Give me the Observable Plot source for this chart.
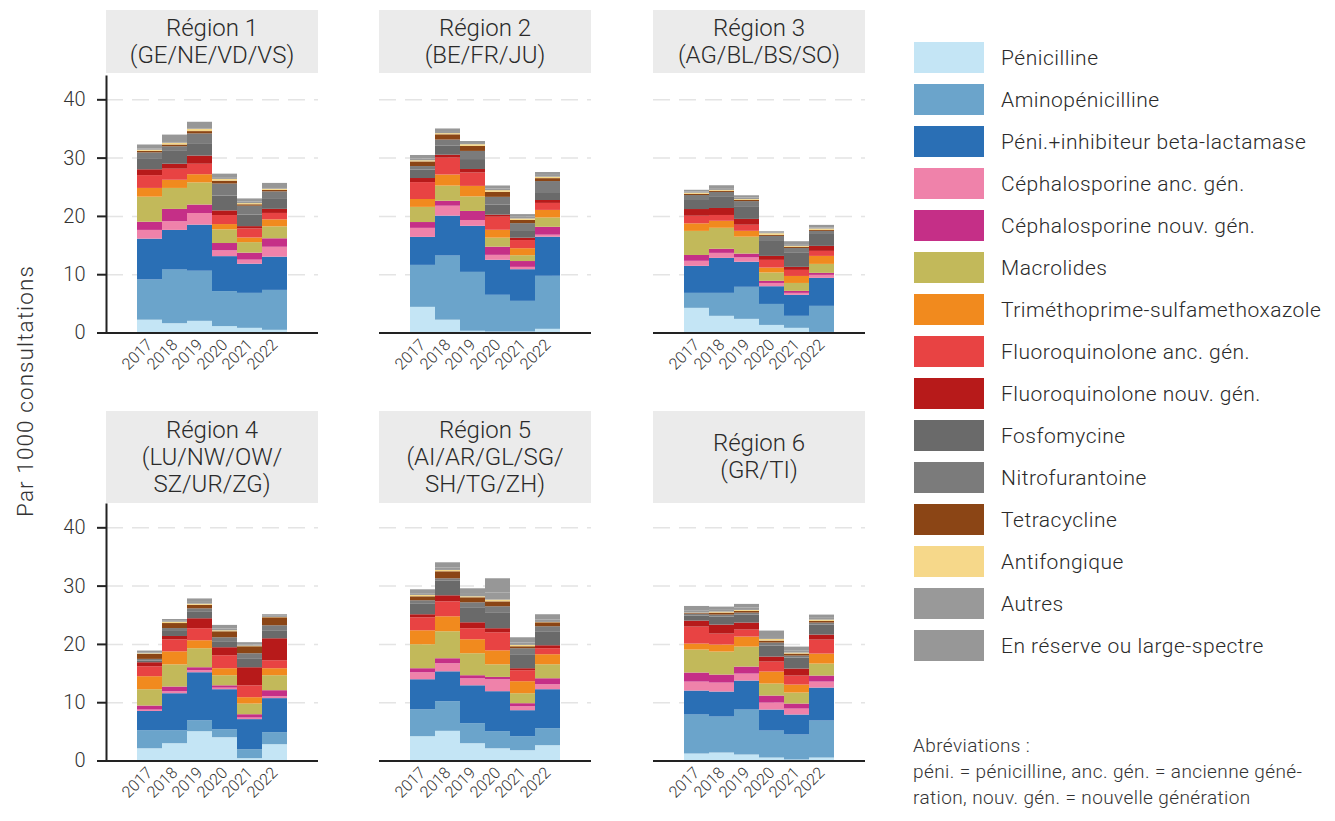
<!DOCTYPE html>
<html><head><meta charset="utf-8">
<script src="https://cdn.jsdelivr.net/npm/d3@7"></script>
<script src="https://cdn.jsdelivr.net/npm/@observablehq/plot@0.6"></script>
<style>
body{margin:0;background:#fff;font-family:Roboto,"Noto Sans",sans-serif;color:#333}
#root{position:relative;width:1335px;height:821px;overflow:hidden;background:#fff}
.hdr{position:absolute;background:#ebebeb;display:flex;flex-direction:column;justify-content:center;align-items:center;font-size:24px;font-weight:300;line-height:27px;color:#2a2a2a;text-align:center}
.panel{position:absolute}
.ylab{position:absolute;left:25px;top:391px;transform:translate(-50%,-50%) rotate(-90deg);white-space:nowrap;font-size:22.5px;letter-spacing:1.1px;font-weight:300;color:#333}
.leg{position:absolute;left:914px;height:31px;display:flex;align-items:center}
.leg .sw{width:70px;height:31px;flex:none}
.leg .tx{margin-left:17px;font-size:21px;letter-spacing:0.5px;font-weight:300;color:#2a2a2a;white-space:nowrap}
.abbr{position:absolute;left:913px;top:733px;font-size:19px;letter-spacing:0.4px;font-weight:300;line-height:26px;color:#333;white-space:nowrap}
</style>
</head><body>
<div id="root"></div>
<script>
const years = ["2017","2018","2019","2020","2021","2022"];
const categories = ["Pénicilline","Aminopénicilline","Péni.+inhibiteur beta-lactamase","Céphalosporine anc. gén.","Céphalosporine nouv. gén.","Macrolides","Triméthoprime-sulfamethoxazole","Fluoroquinolone anc. gén.","Fluoroquinolone nouv. gén.","Fosfomycine","Nitrofurantoine","Tetracycline","Antifongique","Autres","En réserve ou large-spectre"];
const colors = ["#c4e5f5","#6ba4cb","#2a6fb5","#ef82aa","#c52f87","#c2b95a","#f18a1e","#e84343","#b71a1a","#6a6a6a","#7b7b7b","#8b4515","#f6d88a","#999999","#979797"];

// values per year (rows 2017..2022), per category (columns in categories order)
const region1 = [
  [2.2, 6.9, 7.0, 1.5, 1.4, 4.3, 1.5, 2.2, 1.0, 1.9, 1.0, 0.25, 0.2, 0.2, 0.7],
  [1.6, 9.2, 6.8, 1.5, 2.1, 3.6, 1.4, 1.9, 0.85, 2.2, 0.8, 0.3, 0.3, 0.3, 1.1],
  [2.0, 8.6, 7.9, 2.0, 1.45, 3.8, 1.4, 1.8, 1.4, 2.0, 1.8, 0.4, 0.4, 0.3, 0.9],
  [1.1, 6.0, 6.0, 1.0, 1.25, 2.35, 0.9, 1.55, 0.8, 2.55, 2.05, 0.5, 0.3, 0.3, 0.6],
  [0.8, 6.0, 5.0, 0.7, 1.2, 1.8, 0.8, 1.55, 0.4, 2.0, 1.5, 0.25, 0.2, 0.3, 0.5],
  [0.46, 6.85, 5.7, 1.7, 1.45, 2.05, 1.2, 1.1, 0.7, 1.7, 1.3, 0.25, 0.2, 0.3, 0.7]
];
const region2 = [
  [4.4, 7.2, 4.8, 1.55, 1.0, 2.6, 1.35, 2.9, 0.7, 1.45, 0.6, 0.8, 0.2, 0.3, 0.6],
  [2.2, 11.0, 6.85, 1.7, 0.85, 2.6, 1.9, 2.9, 0.5, 1.6, 1.0, 0.9, 0.2, 0.2, 0.6],
  [0.3, 10.1, 7.9, 1.0, 1.55, 2.5, 1.8, 2.3, 0.6, 1.7, 1.4, 0.85, 0.3, 0.2, 0.35],
  [0.17, 6.3, 6.0, 0.85, 1.4, 1.55, 1.35, 2.25, 0.35, 1.7, 1.35, 0.85, 0.3, 0.3, 0.5],
  [0.17, 5.26, 5.43, 0.4, 1.0, 1.0, 1.2, 1.4, 0.4, 1.3, 1.2, 0.55, 0.25, 0.3, 0.45],
  [0.63, 9.1, 6.7, 0.35, 1.35, 1.6, 1.3, 1.2, 0.5, 1.2, 2.05, 0.5, 0.25, 0.3, 0.5]
];
const region3 = [
  [4.23, 2.57, 4.63, 0.87, 1.0, 4.13, 1.3, 1.3, 1.15, 1.55, 0.85, 0.2, 0.2, 0.2, 0.3],
  [2.86, 3.94, 6.0, 0.86, 0.7, 3.6, 1.2, 1.0, 1.2, 1.9, 0.85, 0.2, 0.15, 0.3, 0.5],
  [2.34, 5.5, 4.3, 0.75, 0.65, 2.9, 1.0, 1.05, 1.0, 2.05, 1.0, 0.2, 0.15, 0.25, 0.4],
  [1.3, 3.6, 3.04, 0.56, 0.36, 1.44, 0.84, 1.32, 0.68, 2.56, 0.87, 0.17, 0.29, 0.14, 0.2],
  [0.8, 2.06, 3.6, 0.34, 0.34, 1.36, 1.2, 1.04, 0.52, 2.4, 0.84, 0.2, 0.16, 0.3, 0.5],
  [0.1, 4.47, 4.8, 0.52, 0.34, 1.54, 1.37, 0.86, 0.86, 2.04, 0.53, 0.17, 0.23, 0.2, 0.43]
];
const region4 = [
  [2.1, 3.1, 3.3, 0.24, 0.69, 2.8, 2.23, 1.71, 0.69, 0.3, 0.27, 0.87, 0.1, 0.16, 0.3],
  [2.97, 2.23, 6.34, 0.35, 0.8, 3.8, 2.24, 2.06, 0.57, 0.86, 0.5, 0.86, 0.23, 0.16, 0.3],
  [5.03, 1.87, 8.24, 0.36, 0.5, 3.26, 1.37, 2.07, 1.7, 1.2, 0.5, 0.6, 0.2, 0.3, 0.6],
  [4.0, 1.37, 6.86, 0.27, 0.4, 1.73, 1.2, 2.23, 1.37, 1.03, 0.68, 1.03, 0.17, 0.3, 0.62],
  [0.4, 1.54, 5.16, 0.27, 0.57, 1.83, 1.09, 2.04, 3.1, 1.54, 0.86, 1.2, 0.1, 0.2, 0.4],
  [2.8, 2.06, 5.84, 0.33, 1.03, 2.57, 1.2, 1.37, 3.77, 1.37, 0.86, 1.37, 0.06, 0.2, 0.27]
];
const region5 = [
  [4.17, 4.63, 5.14, 1.2, 0.69, 4.11, 2.4, 2.23, 0.52, 1.88, 0.52, 0.68, 0.23, 0.3, 0.67],
  [5.09, 5.08, 5.13, 1.39, 0.85, 4.63, 2.57, 2.56, 1.04, 2.56, 0.36, 1.2, 0.23, 0.4, 0.91],
  [2.97, 3.43, 6.5, 1.2, 0.53, 3.77, 2.4, 1.89, 1.02, 2.58, 0.85, 0.86, 0.17, 0.4, 0.97],
  [2.1, 2.93, 6.86, 2.05, 0.4, 2.16, 2.4, 3.1, 0.69, 2.74, 1.03, 0.84, 0.3, 1.2, 2.46],
  [1.77, 2.4, 4.46, 0.68, 0.52, 1.71, 2.06, 1.89, 0.34, 2.4, 1.03, 0.34, 0.23, 0.4, 0.91],
  [2.63, 2.91, 6.69, 0.86, 1.02, 2.4, 1.72, 1.03, 0.51, 2.4, 0.86, 0.68, 0.06, 0.4, 0.92]
];
const region6 = [
  [1.2, 6.69, 4.11, 1.54, 1.55, 3.94, 1.03, 2.91, 1.03, 0.86, 0.34, 0.11, 0.06, 0.4, 0.74],
  [1.37, 6.17, 4.29, 1.54, 1.37, 3.95, 1.2, 1.88, 1.54, 1.38, 0.34, 0.34, 0.17, 0.3, 0.56],
  [1.03, 7.71, 4.97, 1.2, 1.2, 3.43, 1.72, 1.2, 1.2, 1.37, 0.34, 0.29, 0.17, 0.4, 0.63],
  [0.51, 4.63, 3.6, 1.2, 1.2, 2.06, 2.06, 1.71, 0.86, 1.88, 0.52, 0.34, 0.29, 0.5, 0.93],
  [0.17, 4.29, 3.43, 1.02, 0.86, 1.89, 1.37, 1.54, 1.2, 1.89, 0.34, 0.34, 0.17, 0.4, 0.63],
  [0.51, 6.35, 5.65, 1.03, 1.03, 2.06, 1.71, 2.4, 0.86, 1.71, 0.35, 0.28, 0.23, 0.3, 0.56]
];
const regionTitles = [
  ["Région 1", "(GE/NE/VD/VS)"],
  ["Région 2", "(BE/FR/JU)"],
  ["Région 3", "(AG/BL/BS/SO)"],
  ["Région 4", "(LU/NW/OW/", "SZ/UR/ZG)"],
  ["Région 5", "(AI/AR/GL/SG/", "SH/TG/ZH)"],
  ["Région 6", "(GR/TI)"]
];
const regions = [region1, region2, region3, region4, region5, region6];
const yTicks = [0, 10, 20, 30, 40];
const gridTicks = [10, 20, 30, 40];
const yLabel = "Par 1000 consultations";
const abbrLines = ["Abréviations :", "péni. = pénicilline, anc. gén. = ancienne géné-", "ration, nouv. gén. = nouvelle génération"];

const root = document.getElementById("root");
const colLeft = [106, 379, 653];
const rowBase = [332, 760];
const hdrTop = [10, 411];
const hdrBot = [73, 503];
const FW = 212, PH = 256.5;

regions.forEach((data, k) => {
  const col = k % 3, row = Math.floor(k / 3);
  const showY = col === 0;
  const mL = showY ? 95 : 4, mR = 4, mT = 2, mB = 70;
  const rows = years.flatMap((yr, i) => categories.map((c, j) => ({year: yr, cat: c, value: data[i][j]})));
  const svg = Plot.plot({
    width: mL + FW + mR, height: mT + PH + mB,
    marginLeft: mL, marginRight: mR, marginTop: mT, marginBottom: mB,
    style: {fontFamily: "Roboto, sans-serif", fontWeight: 300, background: "transparent", overflow: "visible", color: "#333"},
    x: {type: "band", domain: years, paddingInner: 0, paddingOuter: 1.2, label: null},
    y: {domain: [0, 44], label: null, axis: showY ? undefined : null},
    color: {domain: categories, range: colors},
    marks: [
      Plot.gridY(gridTicks, {stroke: "#e4e4e4", strokeOpacity: 1, strokeDasharray: "17,9", strokeWidth: 1.5}),
      Plot.barY(rows, {x: "year", y: "value", fill: "cat"}),
      Plot.ruleY([0], {stroke: "#222", strokeWidth: 2}),
      Plot.axisX({tickRotate: -45, tickSize: 0, tickPadding: 9, fontSize: 16, fill: "#333", label: null}),
      showY ? Plot.axisY(yTicks, {tickSize: 9, tickPadding: 12, fontSize: 20, stroke: "#222", strokeWidth: 2, fill: "#333", label: null}) : null,
      showY ? Plot.frame({anchor: "left", stroke: "#222", strokeWidth: 2}) : null
    ]
  });
  const div = document.createElement("div");
  div.className = "panel";
  div.style.left = (colLeft[col] - mL) + "px";
  div.style.top = (rowBase[row] - PH - mT) + "px";
  div.appendChild(svg);
  root.appendChild(div);

  const h = document.createElement("div");
  h.className = "hdr";
  h.style.left = colLeft[col] + "px";
  h.style.width = FW + "px";
  h.style.top = hdrTop[row] + "px";
  h.style.height = (hdrBot[row] - hdrTop[row]) + "px";
  regionTitles[k].forEach(t => { const s = document.createElement("div"); s.textContent = t; h.appendChild(s); });
  root.appendChild(h);
});

const yl = document.createElement("div");
yl.className = "ylab"; yl.textContent = yLabel; root.appendChild(yl);

categories.forEach((c, i) => {
  const it = document.createElement("div");
  it.className = "leg";
  it.style.top = (42 + i * 42) + "px";
  it.innerHTML = `<div class="sw" style="background:${colors[i]}"></div><div class="tx"></div>`;
  it.querySelector(".tx").textContent = c;
  root.appendChild(it);
});

const ab = document.createElement("div");
ab.className = "abbr";
abbrLines.forEach(t => { const s = document.createElement("div"); s.textContent = t; ab.appendChild(s); });
root.appendChild(ab);
</script>
</body></html>
